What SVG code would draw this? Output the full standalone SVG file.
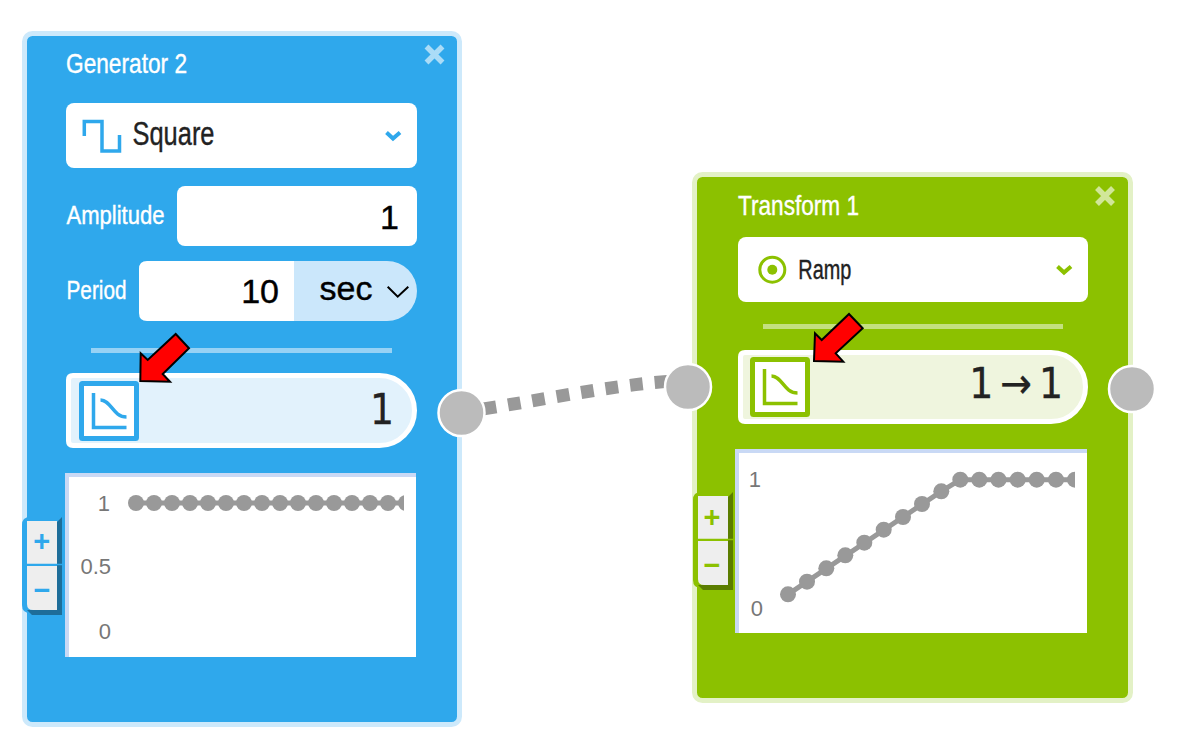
<svg xmlns="http://www.w3.org/2000/svg" width="1181" height="750" viewBox="0 0 1181 750">
<style>
.title{font-family:"Liberation Sans Narrow","Liberation Sans",sans-serif;fill:#fff;stroke:#fff;stroke-width:.4px}
.dark{font-family:"Liberation Sans Narrow","Liberation Sans",sans-serif;fill:#222;stroke:#222;stroke-width:.4px}
.val{font-family:"DejaVu Sans Condensed","DejaVu Sans",sans-serif;fill:#222;font-size:42px;text-anchor:end;stroke:#222;stroke-width:.3px;word-spacing:-5px}
.inp{font-family:"Liberation Sans",Arial,sans-serif;fill:#000;stroke:#000;stroke-width:.4px;font-size:34px}
.ax{font-family:"Liberation Sans",Arial,sans-serif;fill:#777;font-size:22px;text-anchor:end}
.bt{font-family:"Liberation Sans",Arial,sans-serif;font-weight:bold;font-size:29px;text-anchor:middle}
.white{fill:#fff}
.port{fill:#bbb;stroke:#fff;stroke-width:2.5}
.arrow{fill:#f00;stroke:#000;stroke-width:2}
.line{fill:none;stroke:#999;stroke-width:5}
.dots circle{fill:#999}
.blue{color:#2fa8ec}
.green{color:#8cc100}
</style>
<defs>
<g id="ico">
<rect x="2.5" y="2.5" width="55" height="55" rx="1" fill="#fff" stroke="currentColor" stroke-width="5"/>
<path d="M14.5 12V46.500H47.500" fill="none" stroke="currentColor" stroke-width="3.500"/>
<path d="M21.500 19C32 19 34 36 47.500 36" fill="none" stroke="currentColor" stroke-width="3.500"/>
</g>
<path id="close" d="M-8-8L8 8M8-8L-8 8" fill="none" stroke="#fff" stroke-opacity=".6" stroke-width="5.500"/>
<g id="zoom">
<path d="M0 88V8Q0 0 8 0H40V96H8Q0 96 0 88Z" fill="currentColor"/>
<path d="M35 5L40 0V98H10L5 93H35Z" fill="#000" fill-opacity=".35"/>
<rect x="5" y="4" width="30" height="43" fill="#eee"/>
<path d="M5 49H35V93H11Q5 93 5 87Z" fill="#eee"/>
</g>
<clipPath id="c1"><rect x="69" y="477" width="335" height="180"/></clipPath>
<clipPath id="c2"><rect x="739" y="453" width="336" height="180"/></clipPath>
</defs>
<g id="connectors">
<path d="M462 412C530 403 610 384 688 380" fill="none" stroke="#999" stroke-width="13" stroke-dasharray="12.700 12" stroke-dashoffset="-22"/>
</g>
<g id="generator-2" class="blue">
<rect x="24.500" y="33.500" width="435" height="691" rx="8" fill="#2fa8ec" stroke="#cde9fb" stroke-width="5"/>
<text class="title" x="66" y="73" font-size="28.500" textLength="121" lengthAdjust="spacingAndGlyphs">Generator 2</text>
<use href="#close" x="434.500" y="54.500"/>
<rect class="white" x="66" y="103" width="351" height="65" rx="8"/>
<path d="M84.300 136V121.500H102V151H119.500V135" fill="none" stroke="#2fa8ec" stroke-width="3.500"/>
<text class="dark" x="132.500" y="145" font-size="33.500" textLength="82" lengthAdjust="spacingAndGlyphs">Square</text>
<path d="M386.500 132.500L393 138.500L400 132.500" fill="none" stroke="#2fa8ec" stroke-width="4"/>
<text class="title" x="66.500" y="223.500" font-size="26" textLength="98" lengthAdjust="spacingAndGlyphs">Amplitude</text>
<rect class="white" x="177" y="186" width="240" height="60" rx="8"/>
<text class="inp" x="399" y="228.500" text-anchor="end">1</text>
<text class="title" x="66.500" y="298.500" font-size="26" textLength="60" lengthAdjust="spacingAndGlyphs">Period</text>
<path class="white" d="M147 261H294V321H147Q139 321 139 313V269Q139 261 147 261Z"/>
<path d="M294 261H387A30 30 0 0 1 387 321H294Z" fill="#cbe7fb"/>
<text class="inp" x="279" y="303" text-anchor="end">10</text>
<text class="inp" x="319.500" y="299.500">sec</text>
<path d="M387.700 286.700L397.700 296.700L408.300 286.700" fill="none" stroke="#000" stroke-width="2"/>
<rect x="91" y="348" width="301" height="5" fill="#97d2f5"/>
<path d="M73 375.500H379.500A35 35 0 0 1 379.500 445.500H73Q68.500 445.500 68.500 441V380Q68.500 375.500 73 375.500Z" fill="#e2f2fc" stroke="#fff" stroke-width="5"/>
<use href="#ico" x="79" y="381"/>
<text class="val" x="394" y="424">1</text>
<rect x="65" y="473" width="351" height="184" fill="#fff"/>
<path d="M65 473H416V477H69V657H65Z" fill="#c9d9f5"/>
<g clip-path="url(#c1)">
<path class="line" d="M136 503H406"/>
<g class="dots"><circle cx="136" cy="503" r="8"/><circle cx="154" cy="503" r="8"/><circle cx="172" cy="503" r="8"/><circle cx="190" cy="503" r="8"/><circle cx="208" cy="503" r="8"/><circle cx="226" cy="503" r="8"/><circle cx="244" cy="503" r="8"/><circle cx="262" cy="503" r="8"/><circle cx="280" cy="503" r="8"/><circle cx="298" cy="503" r="8"/><circle cx="316" cy="503" r="8"/><circle cx="334" cy="503" r="8"/><circle cx="352" cy="503" r="8"/><circle cx="370" cy="503" r="8"/><circle cx="388" cy="503" r="8"/><circle cx="406" cy="503" r="8"/></g>
</g>
<text class="ax" x="110" y="511">1</text>
<text class="ax" x="111" y="574">0.5</text>
<text class="ax" x="111" y="639">0</text>
<use href="#zoom" x="22" y="517"/>
<path d="M22 564.500H62" stroke="#2fa8ec" stroke-width="1.500"/>
<text class="bt" x="41.700" y="551" fill="#2fa8ec">+</text>
<text class="bt" x="42" y="600" fill="#2fa8ec">−</text>
<circle class="port" cx="461.500" cy="413" r="23"/>
<polygon class="arrow" points="140.300,381 140.700,353.300 147.700,360 175.700,334 189,348.300 162.700,374 170,381.700"/>
</g>
<g id="transform-1" class="green">
<rect x="694.500" y="174.500" width="436" height="526" rx="8" fill="#8cc100" stroke="#e3f1c6" stroke-width="5"/>
<text class="title" x="738" y="214.500" font-size="28.500" textLength="121" lengthAdjust="spacingAndGlyphs">Transform 1</text>
<use href="#close" x="1105" y="196"/>
<rect class="white" x="738" y="237" width="350" height="65" rx="8"/>
<circle cx="772.300" cy="269.700" r="12.500" fill="none" stroke="#8cc100" stroke-width="3"/>
<circle cx="772.300" cy="269.700" r="5" fill="#8cc100"/>
<text class="dark" x="798.300" y="278.500" font-size="27" textLength="53" lengthAdjust="spacingAndGlyphs">Ramp</text>
<path d="M1057.500 266.500L1064 272.500L1071 266.500" fill="none" stroke="#8cc100" stroke-width="4"/>
<rect x="763" y="324" width="300" height="5" fill="#c3e07f"/>
<path d="M745 352.500H1051A34.500 34.500 0 0 1 1051 421.500H745Q740.500 421.500 740.500 417V357Q740.500 352.500 745 352.500Z" fill="#eff5de" stroke="#fff" stroke-width="5"/>
<use href="#ico" x="750" y="357"/>
<text class="val" x="1063" y="398">1 → 1</text>
<rect x="735" y="449" width="352" height="184" fill="#fff"/>
<path d="M735 449H1087V453H739V633H735Z" fill="#c9d9f5"/>
<g clip-path="url(#c2)">
<path class="line" d="M788 594.300L941.300 491.300L960.300 479.700H1075"/>
<g class="dots"><circle cx="788" cy="594.300" r="8"/><circle cx="807" cy="581.700" r="8"/><circle cx="826.300" cy="568.300" r="8"/><circle cx="845.300" cy="555.300" r="8"/><circle cx="864.300" cy="542.700" r="8"/><circle cx="883.700" cy="529.700" r="8"/><circle cx="903" cy="517" r="8"/><circle cx="922" cy="504" r="8"/><circle cx="941.300" cy="491.300" r="8"/><circle cx="960.300" cy="479.700" r="8"/><circle cx="979.300" cy="479.700" r="8"/><circle cx="998.500" cy="479.700" r="8"/><circle cx="1017.700" cy="479.700" r="8"/><circle cx="1036.700" cy="479.700" r="8"/><circle cx="1056" cy="479.700" r="8"/><circle cx="1075" cy="479.700" r="8"/></g>
</g>
<text class="ax" x="761" y="487">1</text>
<text class="ax" x="763" y="615.500">0</text>
<use href="#zoom" x="693" y="492"/>
<path d="M693 539.500H733" stroke="#8cc100" stroke-width="1.500"/>
<text class="bt" x="712" y="527" fill="#8cc100">+</text>
<text class="bt" x="712" y="575" fill="#8cc100">−</text>
<circle class="port" cx="688" cy="387" r="23"/>
<circle class="port" cx="1132" cy="389" r="23"/>
<polygon class="arrow" points="814,361 815,333.300 821.700,340 849,314 862.700,328.300 835.700,353.300 843.300,361.700"/>
</g>
</svg>
